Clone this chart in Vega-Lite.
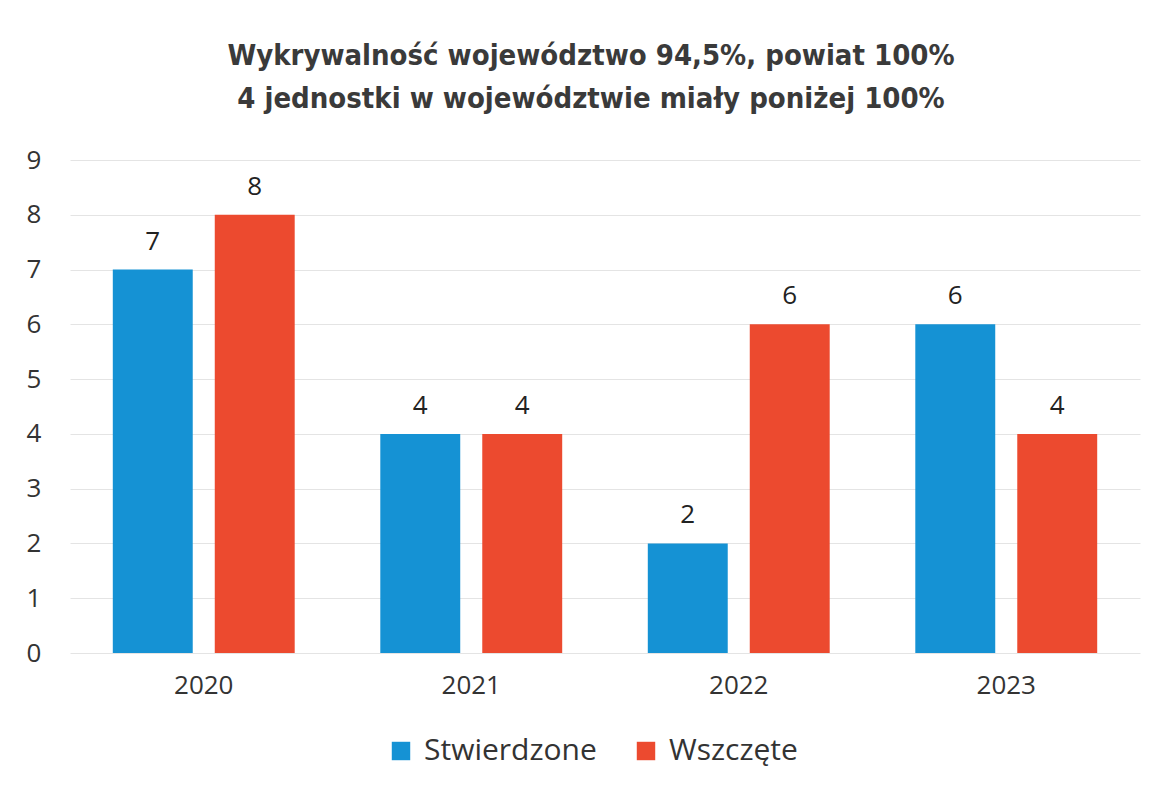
{
  "$schema": "https://vega.github.io/schema/vega-lite/v6.json",
  "autosize": {"type": "none"},
  "width": 1070,
  "height": 493,
  "padding": {"left": 70, "top": 160, "right": 23, "bottom": 140},
  "background": "white",
  "title": {
    "text": ["Wykrywalność województwo 94,5%, powiat 100%", "4 jednostki w województwie miały poniżej 100%"],
    "font": "DejaVu Sans Condensed, Roboto Condensed, Roboto, sans-serif",
    "fontSize": 29,
    "fontWeight": "bold",
    "color": "#3a3a3a",
    "lineHeight": 43,
    "anchor": "middle",
    "offset": 33,
    "dx": -14
  },
  "data": {
    "values": [
      {"rok": "2020", "seria": "Stwierdzone", "wartosc": 7},
      {"rok": "2020", "seria": "Wszczęte", "wartosc": 8},
      {"rok": "2021", "seria": "Stwierdzone", "wartosc": 4},
      {"rok": "2021", "seria": "Wszczęte", "wartosc": 4},
      {"rok": "2022", "seria": "Stwierdzone", "wartosc": 2},
      {"rok": "2022", "seria": "Wszczęte", "wartosc": 6},
      {"rok": "2023", "seria": "Stwierdzone", "wartosc": 6},
      {"rok": "2023", "seria": "Wszczęte", "wartosc": 4}
    ]
  },
  "encoding": {
    "x": {
      "field": "rok",
      "type": "nominal",
      "scale": {"paddingInner": 0.32, "paddingOuter": 0.16},
      "axis": {
        "title": null,
        "labelAngle": 0,
        "labelFont": "Open Sans",
        "labelFontSize": 26,
        "labelColor": "#333333",
        "labelPadding": 19,
        "domain": false,
        "ticks": false
      }
    },
    "xOffset": {"field": "seria", "type": "nominal", "scale": {"paddingInner": 0.216}},
    "y": {
      "field": "wartosc",
      "type": "quantitative",
      "scale": {"domain": [0, 9], "nice": false},
      "axis": {
        "title": null,
        "values": [0, 1, 2, 3, 4, 5, 6, 7, 8, 9],
        "labelOverlap": false,
        "labelFont": "Open Sans",
        "labelFontSize": 26,
        "labelColor": "#333333",
        "labelAlign": "left",
        "labelPadding": 44,
        "domain": false,
        "ticks": false,
        "gridColor": "#e4e4e4",
        "gridWidth": 1
      }
    }
  },
  "layer": [
    {
      "mark": {"type": "bar"},
      "encoding": {
        "color": {
          "field": "seria",
          "type": "nominal",
          "scale": {"domain": ["Stwierdzone", "Wszczęte"], "range": ["#1592d4", "#ec4a2f"]},
          "legend": {
            "title": null,
            "orient": "none",
            "legendX": 316,
            "legendY": 576,
            "direction": "horizontal",
            "symbolType": "square",
            "symbolSize": 340,
            "symbolStrokeWidth": 0,
            "labelFont": "Open Sans",
            "labelFontSize": 30,
            "labelColor": "#333333",
            "labelOffset": 8,
            "labelLimit": 400,
            "columnPadding": 34
          }
        }
      }
    },
    {
      "mark": {"type": "text", "dy": -28, "font": "Open Sans", "fontSize": 26, "color": "#222222"},
      "encoding": {"text": {"field": "wartosc", "type": "quantitative"}}
    }
  ],
  "config": {"view": {"stroke": null}}
}
